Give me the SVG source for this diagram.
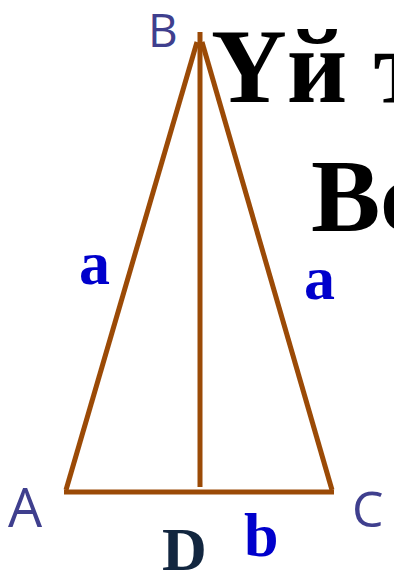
<svg xmlns="http://www.w3.org/2000/svg" width="394" height="576" viewBox="0 0 394 576">
<style>
.edge{stroke:#9b4a06;stroke-width:5;fill:none;stroke-linecap:butt}
.vtx{font-family:"Open Sans","Liberation Sans",sans-serif;fill:#3f3f8e}
.title{font-family:"Liberation Serif",serif;font-weight:bold;fill:#000}
.len{font-family:"Liberation Serif",serif;font-weight:bold;fill:#0000cc}
</style>
<rect width="394" height="576" fill="#fff"/>
<g id="title">
<text class="title" x="211" y="102" font-size="105">Үй т</text>
<text class="title" x="311" y="231" font-size="104">Вс</text>
</g>
<g id="connectors">
<line class="edge" x1="197" y1="42" x2="66" y2="490"/>
<line class="edge" x1="202" y1="42" x2="332" y2="490"/>
<line class="edge" x1="200" y1="32" x2="200" y2="487"/>
<line class="edge" x1="64" y1="492" x2="334" y2="492"/>
</g>
<g id="B"><text class="vtx" x="148" y="47" font-size="46">B</text></g>
<g id="A"><text class="vtx" x="8" y="527" font-size="54">A</text></g>
<g id="C"><text class="vtx" x="352" y="527" font-size="50">C</text></g>
<g id="D"><text x="162" y="570" font-size="62" font-family="Liberation Serif,serif" font-weight="bold" fill="#12263f">D</text></g>
<g id="labels">
<text class="len" x="79" y="284" font-size="62">a</text>
<text class="len" x="304" y="299" font-size="62">a</text>
<text class="len" x="244" y="556" font-size="62">b</text>
</g>
</svg>
